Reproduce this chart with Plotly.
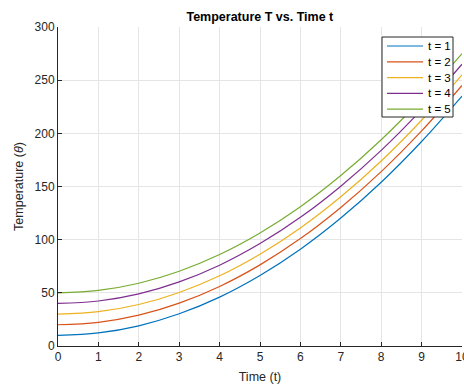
import plotly.graph_objects as go

time_t = [0, 1, 2, 3, 4, 5, 6, 7, 8, 9, 10]
series_names = ["t = 1", "t = 2", "t = 3", "t = 4", "t = 5"]
temp_1 = [10, 12.3, 19, 30.3, 46, 66.3, 91, 120.3, 154, 192.3, 235]
temp_2 = [20, 22.3, 29, 40.3, 56, 76.3, 101, 130.3, 164, 202.3, 245]
temp_3 = [30, 32.3, 39, 50.3, 66, 86.3, 111, 140.3, 174, 212.3, 255]
temp_4 = [40, 42.3, 49, 60.3, 76, 96.3, 121, 150.3, 184, 222.3, 265]
temp_5 = [50, 52.3, 59, 70.3, 86, 106.3, 131, 160.3, 194, 232.3, 275]
colors = ["#0072BD", "#D95319", "#EDB120", "#7E2F8E", "#77AC30"]

W, H = 464, 385
ML, MR, MT, MB = 58, 2, 27, 39
PW, PH = W - ML - MR, H - MT - MB

def px_x(p):
    return (p - ML) / PW

def px_y(p):
    return (H - MB - p) / PH

fig = go.Figure()
for name, ys, c in zip(series_names, [temp_1, temp_2, temp_3, temp_4, temp_5], colors):
    fig.add_trace(go.Scatter(x=time_t, y=ys, mode="lines", name=name, showlegend=False,
                             line=dict(color=c, width=1.2, shape="spline", smoothing=1.0)))

# custom MATLAB-style legend box
shapes = [dict(type="rect", xref="paper", yref="paper", x0=px_x(382), x1=px_x(453),
               y0=px_y(117), y1=px_y(37), line=dict(color="#262626", width=1),
               fillcolor="white", layer="above")]
annotations = []
for i, (name, c) in enumerate(zip(series_names, colors)):
    yy = 46 + i * 15.8
    shapes.append(dict(type="line", xref="paper", yref="paper", x0=px_x(387), x1=px_x(423),
                       y0=px_y(yy), y1=px_y(yy), line=dict(color=c, width=1.2), layer="above"))
    annotations.append(dict(text=name, xref="paper", yref="paper", x=px_x(426), y=px_y(yy),
                            xanchor="left", yanchor="middle", showarrow=False,
                            font=dict(size=11.5, color="#000000")))

font_fam = "Liberation Sans, Arial, sans-serif"
fig.update_layout(
    width=W, height=H,
    margin=dict(l=ML, r=MR, t=MT, b=MB, autoexpand=False),
    paper_bgcolor="white", plot_bgcolor="white",
    font=dict(family=font_fam, size=12, color="#262626"),
    title=dict(text="<b>Temperature T vs. Time t</b>", x=0.56, xanchor="center",
               y=1 - 17 / 385, yanchor="middle", font=dict(size=12.5, color="#000000")),
    showlegend=False,
    shapes=shapes, annotations=annotations,
    xaxis=dict(range=[0, 10], tickvals=list(range(0, 11)), showgrid=True, gridcolor="#e5e5e5",
               gridwidth=1, showline=True, linecolor="#262626", linewidth=1,
               ticks="inside", ticklen=4, tickcolor="#262626", zeroline=False,
               ticklabeloverflow="allow", automargin=False,
               title=dict(text="Time (t)", standoff=8, font=dict(size=12.5)), mirror=False),
    yaxis=dict(range=[0, 300], tickvals=[0, 50, 100, 150, 200, 250, 300], showgrid=True,
               gridcolor="#e5e5e5", gridwidth=1, showline=True, linecolor="#262626", linewidth=1,
               ticks="inside", ticklen=4, tickcolor="#262626", zeroline=False,
               automargin=False,
               title=dict(text="Temperature (<i>θ</i>)", standoff=8, font=dict(size=12.5))),
)
fig.write_html("out.html", config={"displayModeBar": False},
               post_script="document.body.style.margin='0';document.body.style.padding='0';")
